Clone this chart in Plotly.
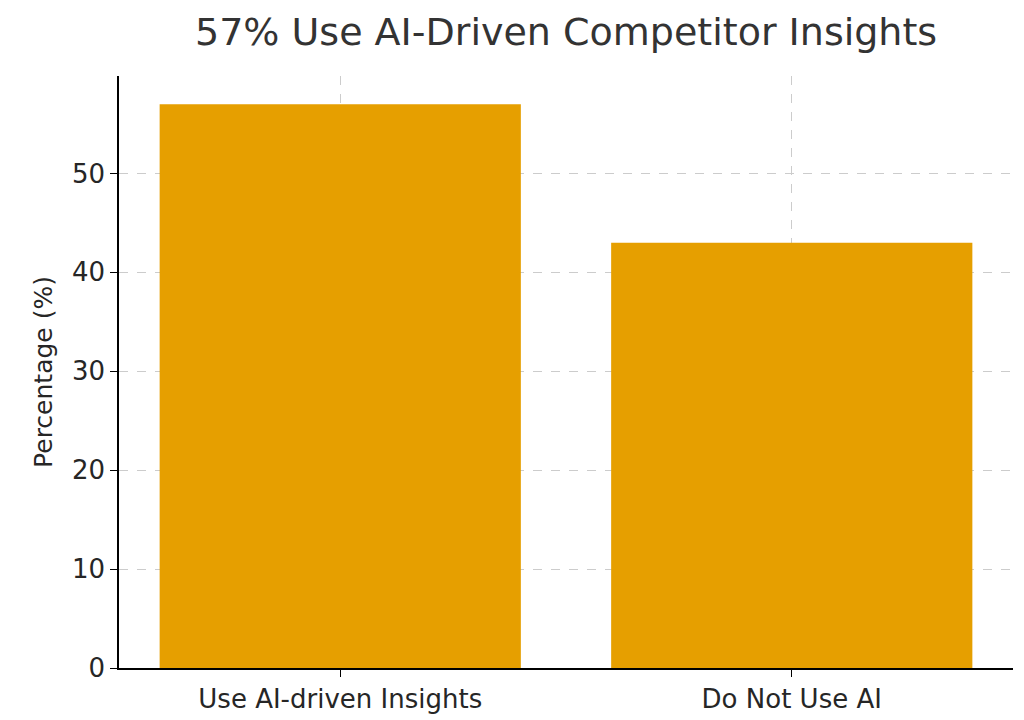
import plotly.graph_objects as go

categories = ["Use AI-driven Insights", "Do Not Use AI"]
percentages = [57, 43]

fig = go.Figure()
fig.add_trace(go.Bar(x=categories, y=percentages, marker=dict(color="#E69F00", line=dict(width=0)), width=0.8))

fig.update_layout(
    width=1024, height=720,
    paper_bgcolor="white", plot_bgcolor="white",
    font=dict(family="DejaVu Sans", color="#262626"),
    title=dict(text="57% Use AI-Driven Competitor Insights", x=0.545, xanchor="center", y=0.985, yanchor="top",
               font=dict(size=38, color="#333333")),
    margin=dict(l=111, r=19, t=68, b=60),
    showlegend=False,
    xaxis=dict(range=[-0.49, 1.49], showline=True, linecolor="black", linewidth=1.5,
               ticks="outside", ticklen=7, tickcolor="black", tickfont=dict(size=26),
               showgrid=True, gridcolor="#cccccc", griddash="dash", gridwidth=1),
    yaxis=dict(range=[0, 59.85], showline=True, linecolor="black", linewidth=1.5,
               ticks="outside", ticklen=7, tickcolor="black", tickfont=dict(size=26),
               tickvals=[0, 10, 20, 30, 40, 50],
               title=dict(text="Percentage (%)", font=dict(size=25), standoff=12),
               showgrid=True, gridcolor="#cccccc", griddash="dash", gridwidth=1, zeroline=False),
)

fig.write_html("out.html")
